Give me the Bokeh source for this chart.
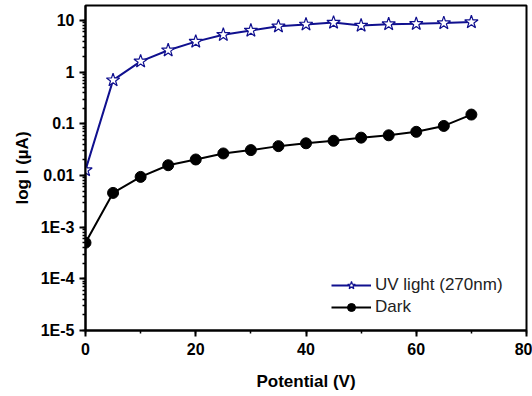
from bokeh.plotting import figure
from bokeh.models import (SingleIntervalTicker, LogTicker, Legend, LegendItem, Range1d)
from bokeh.embed import file_html
from bokeh.resources import INLINE

# Photocurrent vs bias potential, under UV illumination and in the dark
potential = [0, 5, 10, 15, 20, 25, 30, 35, 40, 45, 50, 55, 60, 65, 70]
uv_current = [0.0127, 0.70, 1.62, 2.65, 3.9, 5.3, 6.4, 7.7, 8.4, 9.1, 8.0, 8.5, 8.6, 8.9, 9.3]
dark_current = [0.0005, 0.0046, 0.0094, 0.0158, 0.0204, 0.0267, 0.031, 0.037, 0.042,
                0.047, 0.054, 0.060, 0.070, 0.091, 0.151]

y_ticks = [1e-5, 1e-4, 1e-3, 0.01, 0.1, 1, 10]
y_tick_labels = ["1E-5", "1E-4", "1E-3", "0.01", "0.1", "1", "10"]

FONT = "Liberation Sans"

p = figure(width=532, height=396, y_axis_type="log",
           x_range=Range1d(0, 80), y_range=Range1d(1e-5, 19.5),
           output_backend="svg", toolbar_location=None,
           min_border_left=85, min_border_right=6, min_border_top=5, min_border_bottom=66)

p.grid.visible = False
p.outline_line_color = "black"
p.outline_line_width = 2
p.background_fill_color = "white"
p.border_fill_color = "white"

# axes
p.xaxis.ticker = SingleIntervalTicker(interval=20, num_minor_ticks=2)
p.yaxis.ticker = LogTicker(desired_num_ticks=7, num_minor_ticks=10)
p.yaxis.major_label_overrides = {t: l for t, l in zip(y_ticks, y_tick_labels)}
for ax in (p.xaxis[0], p.yaxis[0]):
    ax.axis_line_width = 2
    ax.axis_line_color = "black"
    ax.major_tick_line_width = 2
    ax.minor_tick_line_width = 1.5
    ax.major_tick_out = 6
    ax.major_tick_in = 0
    ax.minor_tick_out = 3
    ax.minor_tick_in = 0
    ax.major_label_text_font = FONT
    ax.major_label_text_font_style = "bold"
    ax.major_label_text_font_size = "16px"
    ax.major_label_text_color = "black"
    ax.axis_label_text_font = FONT
    ax.axis_label_text_font_style = "bold"
    ax.axis_label_text_font_size = "17px"
    ax.axis_label_text_color = "black"
p.xaxis.axis_label = "Potential (V)"
p.yaxis.axis_label = "log I (\u00b5A)"
p.xaxis.major_label_standoff = 6
p.xaxis.axis_label_standoff = 14
p.yaxis.major_label_standoff = 5
p.yaxis.axis_label_standoff = 6

uv_color = "#10108f"
uv_line = p.line(potential, uv_current, line_color=uv_color, line_width=2)
uv_mark = p.scatter(potential, uv_current, marker="star", size=14,
                    fill_color="white", line_color=uv_color, line_width=1.2)
dk_line = p.line(potential, dark_current, line_color="black", line_width=2)
dk_mark = p.scatter(potential, dark_current, marker="circle", size=11,
                    fill_color="black", line_color="black")

legend = Legend(items=[LegendItem(label="UV light (270nm)", renderers=[uv_line, uv_mark]),
                       LegendItem(label="Dark", renderers=[dk_line, dk_mark])],
                location=(246, 13), padding=0, margin=0, spacing=2,
                glyph_width=40, glyph_height=20, label_standoff=4,
                border_line_color=None, background_fill_alpha=0,
                label_text_font=FONT, label_text_font_size="17px",
                label_text_color="#222222")
p.add_layout(legend)

open("out.html", "w").write(file_html(p, INLINE))
